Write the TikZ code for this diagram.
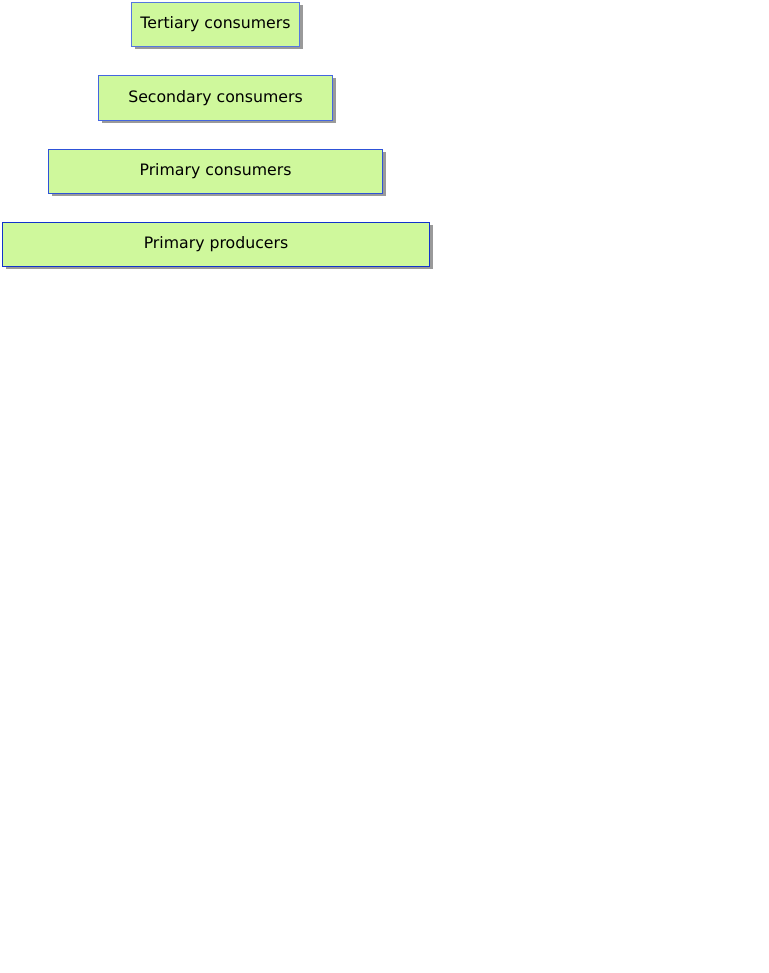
\documentclass[tikz,border=0pt]{standalone}
\usepackage{fontspec}
\setmainfont{DejaVu Sans}
\definecolor{boxfill}{HTML}{CFF89C}
\definecolor{bdA}{HTML}{5577E0}
\definecolor{bdB}{HTML}{4466E0}
\definecolor{bdC}{HTML}{2E52D8}
\definecolor{bdD}{HTML}{1133CC}
\definecolor{shadowgray}{HTML}{9A9A9A}
\begin{document}
\begin{tikzpicture}[x=0.75pt,y=-0.75pt,
  level/.style={fill=boxfill,line width=0.8pt,inner sep=0pt,
    font=\fontsize{11.8pt}{14pt}\selectfont,
    minimum height=44*0.75pt},
]
\useasboundingbox (0,0) rectangle (768,973);
% shadows
\fill[shadowgray] (134.5,5.5) rectangle (302.5,49.5);
\fill[shadowgray] (101.5,78.5) rectangle (335.5,123.5);
\fill[shadowgray] (51.5,152.5) rectangle (385.5,196.5);
\fill[shadowgray] (5.5,225.5) rectangle (432.5,269.5);
\node[level,draw=bdA,minimum width=168*0.75pt] (t) at (215.5,24.5) {Tertiary consumers};
\node[level,draw=bdB,minimum width=234*0.75pt,minimum height=45*0.75pt] (s) at (215.5,98) {Secondary consumers};
\node[level,draw=bdC,minimum width=334*0.75pt] (pc) at (215.5,171.5) {Primary consumers};
\node[level,draw=bdD,minimum width=427*0.75pt] (pp) at (216,244.5) {Primary producers};
\end{tikzpicture}
\end{document}
